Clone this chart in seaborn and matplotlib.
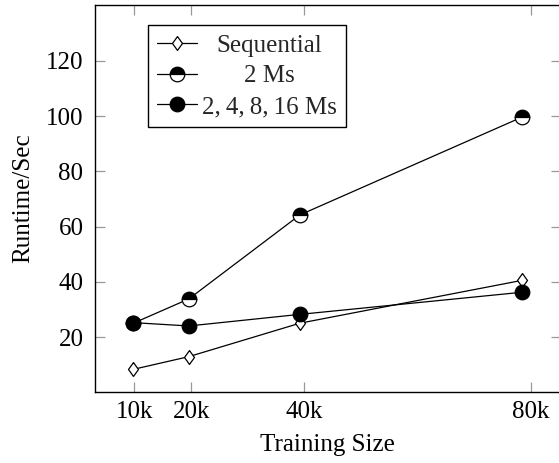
import matplotlib
matplotlib.use("Agg")
import matplotlib.pyplot as plt
import seaborn as sns
import pandas as pd

# ---- data ----
x_ticks = [10, 20, 40, 80]
x_tick_labels = ["10k", "20k", "40k", "80k"]
x_values = [9.8, 19.6, 39.2, 78.4]
sequential = [8.3, 12.9, 25.0, 40.5]
two_ms = [25.0, 33.8, 64.2, 99.6]
multi_ms = [25.2, 24.0, 28.2, 36.2]
y_ticks = [20, 40, 60, 80, 100, 120]
series_labels = ["Sequential", "2 Ms", "2,\u20094,\u20098,\u200916 Ms"]

sns.set_theme(style="white")
plt.rcParams["font.family"] = ["Liberation Serif", "DejaVu Serif"]
plt.rcParams["mathtext.fontset"] = "stix"

fig = plt.figure(figsize=(5.59, 4.63), dpi=100)
ax = fig.add_axes([94.5 / 559, (463 - 391.7) / 463, 466.3 / 559, 386.7 / 463])

diamond = [(0, 1), (0.72, 0), (0, -1), (-0.72, 0), (0, 1)]

df = pd.DataFrame({"x": x_values, "seq": sequential, "two": two_ms, "multi": multi_ms})

sns.lineplot(data=df, x="x", y="seq", ax=ax, color="black", linewidth=0.9,
             marker=diamond, markersize=10, markerfacecolor="white",
             markeredgecolor="black", markeredgewidth=0.9, label=series_labels[0])
sns.lineplot(data=df, x="x", y="two", ax=ax, color="black", linewidth=0.9,
             marker="o", markersize=10.5, fillstyle="top", markerfacecolor="black",
             markerfacecoloralt="white", markeredgecolor="black",
             markeredgewidth=0.9, label=series_labels[1])
sns.lineplot(data=df, x="x", y="multi", ax=ax, color="black", linewidth=0.9,
             marker="o", markersize=10.5, markerfacecolor="black",
             markeredgecolor="black", markeredgewidth=0.9, label=series_labels[2])

ax.set_xlim(2.94, 85.26)
ax.set_ylim(0.2, 140.2)
ax.set_xticks(x_ticks)
ax.set_xticklabels(x_tick_labels)
ax.set_yticks(y_ticks)

for s in ax.spines.values():
    s.set_color("black")
    s.set_linewidth(1.0)
    s.set_visible(True)

ax.tick_params(axis="both", which="major", direction="in", length=7.5, width=0.9,
               color="#999999", labelcolor="black", labelsize=18,
               top=True, right=True, bottom=True, left=True)
ax.tick_params(axis="y", pad=8)
ax.tick_params(axis="x", pad=7)

ax.set_xlabel("Training Size", fontsize=18, color="black")
ax.set_ylabel("Runtime/Sec", fontsize=18, color="black")
ax.xaxis.set_label_coords(0.5, -0.11)
ax.yaxis.set_label_coords(-0.130, 0.5)

handles, labels = ax.get_legend_handles_labels()
leg = ax.legend(handles, labels, loc="upper left", bbox_to_anchor=(0.1147, 0.948),
                borderaxespad=0, fontsize=18, frameon=True, fancybox=False,
                framealpha=1, edgecolor="black", handlelength=1.6,
                handletextpad=0.2, borderpad=0.36, labelspacing=0.33)
leg.get_frame().set_linewidth(1.0)

# centre the legend texts within their column, as in the reference
fig.canvas.draw()
r = fig.canvas.get_renderer()
texts = leg.get_texts()
widths = [t.get_window_extent(r).width for t in texts]
wmax = max(widths)
for t, w in zip(texts, widths):
    t.set_position(((wmax - w) / 2, 0))

fig.savefig("out.png", dpi=100)
